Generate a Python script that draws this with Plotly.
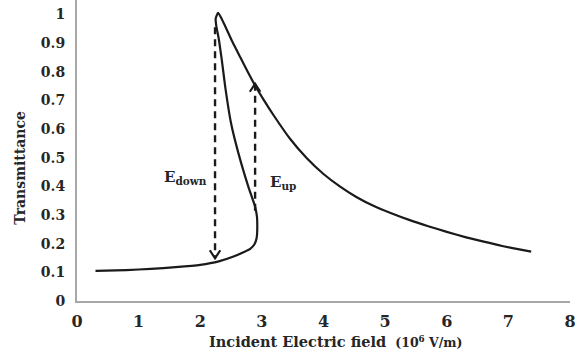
import plotly.graph_objects as go

# Bistable transmission curve: lower branch -> turning point -> middle branch -> peak -> upper branch
field = [0.30, 0.80, 1.20, 1.60, 2.00, 2.30, 2.54, 2.70, 2.81, 2.88, 2.915, 2.925,
         2.92, 2.89, 2.78, 2.62, 2.50, 2.41, 2.35, 2.30, 2.26, 2.25, 2.29,
         2.38, 2.52, 2.65, 2.77, 2.89, 3.04, 3.19, 3.46, 3.73, 4.00, 4.27, 4.54,
         4.81, 5.10, 5.40, 5.70, 6.00, 6.30, 6.60, 6.90, 7.20, 7.37]
trans = [0.105, 0.108, 0.112, 0.118, 0.126, 0.138, 0.155, 0.170, 0.182, 0.198, 0.220, 0.250,
         0.294, 0.329, 0.399, 0.515, 0.620, 0.740, 0.840, 0.915, 0.960, 0.985, 1.005,
         0.970, 0.905, 0.850, 0.800, 0.752, 0.698, 0.648, 0.565, 0.498, 0.443, 0.399, 0.362,
         0.332, 0.306, 0.282, 0.261, 0.241, 0.223, 0.207, 0.192, 0.179, 0.172]

# Switching jumps: (field, start transmittance, end transmittance, label)
jump_field = [2.24, 2.89]
jump_from = [0.955, 0.315]
jump_to = [0.149, 0.758]
jump_label = ["E<sub>down</sub>", "E<sub>up</sub>"]
label_field = [2.14, 3.10]
label_trans = [0.43, 0.415]

x_ticks = [0, 1, 2, 3, 4, 5, 6, 7, 8]
y_ticks = [0, 0.1, 0.2, 0.3, 0.4, 0.5, 0.6, 0.7, 0.8, 0.9, 1]
y_tick_text = ["0", "0.1", "0.2", "0.3", "0.4", "0.5", "0.6", "0.7", "0.8", "0.9", "1"]

INK = "#1a1a1a"
TEXT = "#262626"
SERIF = "DejaVu Serif"

fig = go.Figure()
fig.add_trace(go.Scatter(
    x=field, y=trans, mode="lines",
    line=dict(color=INK, width=2.2, shape="spline", smoothing=0.6),
    hoverinfo="skip", showlegend=False))

# dashed jump lines with open chevron heads
for xf, y0, y1 in zip(jump_field, jump_from, jump_to):
    fig.add_trace(go.Scatter(
        x=[xf, xf], y=[y0, y1], mode="lines",
        line=dict(color=INK, width=2.4, dash="7px,5px"),
        hoverinfo="skip", showlegend=False))
    back = -0.028 if y1 > y0 else 0.028
    fig.add_trace(go.Scatter(
        x=[xf - 0.085, xf, xf + 0.085], y=[y1 + back, y1, y1 + back], mode="lines",
        line=dict(color=INK, width=2.2),
        hoverinfo="skip", showlegend=False))

for i, (lx, ly, txt) in enumerate(zip(label_field, label_trans, jump_label)):
    fig.add_annotation(
        x=lx, y=ly, xref="x", yref="y", text="<b>" + txt + "</b>", showarrow=False,
        xanchor="right" if i == 0 else "left", yanchor="middle",
        font=dict(family=SERIF, size=15, color=TEXT))

fig.add_annotation(
    x=-0.116, y=0.442, xref="paper", yref="paper", text="<b>Transmittance</b>",
    textangle=-90, showarrow=False, xanchor="center", yanchor="middle",
    font=dict(family=SERIF, size=14, color=TEXT))

fig.add_annotation(
    x=0.525, y=-0.136, xref="paper", yref="paper",
    text="<b>Incident Electric field</b>&nbsp;&nbsp;<span style='font-size:12.5px'><b>(10<sup>6</sup> V/m)</b></span>",
    showarrow=False, xanchor="center", yanchor="middle",
    font=dict(family=SERIF, size=14.5, color=TEXT))

fig.update_layout(
    width=581, height=354,
    margin=dict(l=77, r=11, t=0, b=53),
    paper_bgcolor="white", plot_bgcolor="white",
    showlegend=False,
)
fig.update_xaxes(
    range=[0, 8], tickvals=x_ticks, ticktext=[str(v) for v in x_ticks],
    showgrid=False, zeroline=False, showline=True, linecolor="#a8a8a8", linewidth=2,
    ticks="", ticklabelstandoff=5,
    tickfont=dict(family=SERIF, size=16, color=TEXT, weight="bold"))
fig.update_yaxes(
    range=[0, 1.05], tickvals=y_ticks, ticktext=y_tick_text,
    showgrid=False, zeroline=False, showline=True, linecolor="#a8a8a8", linewidth=2,
    ticks="", ticklabelstandoff=7,
    tickfont=dict(family=SERIF, size=14, color=TEXT, weight="bold"))

fig.write_html("out.html")
